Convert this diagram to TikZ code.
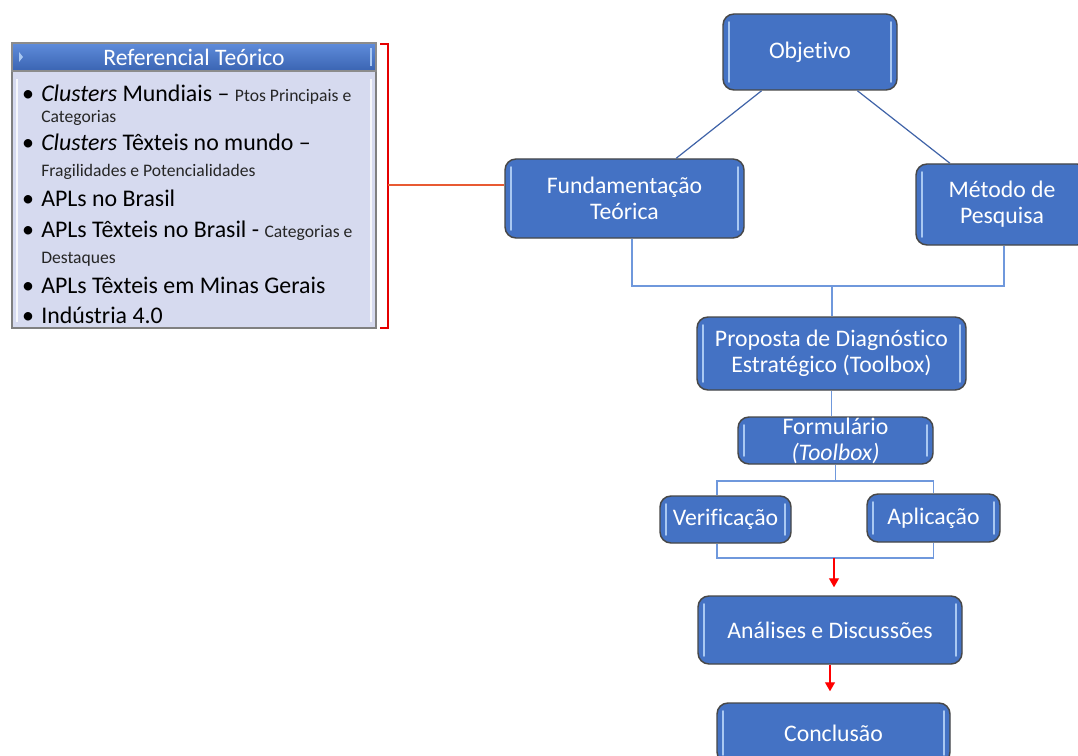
\documentclass[tikz,border=0pt]{standalone}
\usepackage{fontspec}
\setmainfont[Ligatures=NoCommon]{Carlito}
\usetikzlibrary{arrows.meta,calc}
\definecolor{boxblue}{HTML}{4472C4}
\definecolor{bevel}{HTML}{A9C8F2}
\definecolor{connblue}{HTML}{6F98DC}
\definecolor{diagblue}{HTML}{3F63A8}
\definecolor{lav}{HTML}{D6DAEF}
\definecolor{hdrtop}{HTML}{5F8CDB}
\definecolor{hdrbot}{HTML}{3A64B2}
\newcommand\PX[1]{#1*0.75pt}
\tikzset{
  box/.style={draw=black!72, line width=1.1pt, fill=boxblue, rounded corners=\PX{11},
    text=white, font=\fontsize{17.8}{19.5}\selectfont, align=center, inner sep=0pt,
    path picture={
      \draw[bevel, line width=1.3pt, line cap=round]
        ([xshift=\PX{6},yshift=-\PX{8}]path picture bounding box.north west) --
        ([xshift=\PX{6},yshift=\PX{8}]path picture bounding box.south west);
      \draw[bevel, line width=1.3pt, line cap=round]
        ([xshift=-\PX{6},yshift=-\PX{8}]path picture bounding box.north east) --
        ([xshift=-\PX{6},yshift=\PX{8}]path picture bounding box.south east);
    }},
  conn/.style={draw=connblue, line width=0.9pt},
  diag/.style={draw=diagblue, line width=0.9pt},
  redarrow/.style={draw=red, line width=0.9pt, -{Triangle[length=\PX{9},width=\PX{10}]}},
  bigt/.style={anchor=base west, inner sep=0pt, text=black, font=\fontsize{17.9}{20}\selectfont},
  smallt/.style={anchor=base west, inner sep=0pt, text=black!85, font=\fontsize{13.2}{15}\selectfont},
  bul/.style={anchor=base, inner sep=0pt, text=black, font=\fontsize{18}{20}\selectfont},
}
\newcommand\sm[1]{{\fontsize{13.2}{15}\selectfont\color{black!85}#1}}
\begin{document}
\begin{tikzpicture}[x=0.75pt,y=-0.75pt]
\useasboundingbox (0,0) rectangle (1078,756);
\fill[white] (0,0) rectangle (1078,756);

% ---------- left panel ----------
\node[draw=black!50, line width=0.9pt, fill=lav, minimum width=\PX{364}, minimum height=\PX{257}, inner sep=0pt,
  path picture={
    \draw[white, line width=2pt, opacity=0.8]
      ([xshift=\PX{5},yshift=-\PX{8}]path picture bounding box.north west) --
      ([xshift=\PX{5},yshift=\PX{6}]path picture bounding box.south west);
    \draw[white, line width=2pt, opacity=0.8]
      ([xshift=-\PX{5},yshift=-\PX{8}]path picture bounding box.north east) --
      ([xshift=-\PX{5},yshift=\PX{6}]path picture bounding box.south east);
  }] (body) at (194,199.5) {};
\node[draw=black!45, line width=0.9pt, top color=hdrtop, bottom color=hdrbot, minimum width=\PX{364}, minimum height=\PX{28}, inner sep=0pt,
  text=white, font=\fontsize{17.7}{20}\selectfont] (hdr) at (194,57) {Referencial Teórico};
\fill[bevel] (19,52) -- (23,57) -- (19,62) -- cycle;
\draw[bevel, line width=1.2pt] (371,48) -- (371,66);

\node[bul] (b1) at (28,102) {•};
\node[bigt] (t1) at (41,102) {\textit{Clusters} Mundiais – \sm{Ptos Principais e}};
\node[smallt] (t1b) at (41,123) {Categorias};
\node[bul] (b2) at (28,151) {•};
\node[bigt] (t2) at (41,151) {\textit{Clusters} Têxteis no mundo –};
\node[smallt] (t2b) at (41,177) {Fragilidades e  Potencialidades};
\node[bul] (b3) at (28,207) {•};
\node[bigt] (t3) at (41,207) {APLs no Brasil};
\node[bul] (b4) at (28,238) {•};
\node[bigt] (t4) at (41,238) {APLs Têxteis no Brasil - \sm{Categorias e}};
\node[smallt] (t4b) at (41,263) {Destaques};
\node[bul] (b5) at (28,293) {•};
\node[bigt] (t5) at (41,293) {APLs Têxteis em Minas Gerais};
\node[bul] (b6) at (28,323) {•};
\node[bigt] (t6) at (41,323) {Indústria 4.0};

% ---------- right flow ----------
\node[box, minimum width=\PX{174}, minimum height=\PX{76}] (obj) at (810,52) {Objetivo};
\node[box, minimum width=\PX{239}, minimum height=\PX{79}] (fund) at (624.5,198.5) {Fundamentação\\Teórica};
\node[box, minimum width=\PX{172}, minimum height=\PX{81}] (met) at (1002,204.5) {Método de\\Pesquisa};
\node[box, minimum width=\PX{269}, minimum height=\PX{73}] (prop) at (831.5,353.5) {Proposta de Diagnóstico\\Estratégico (Toolbox)};
\node[box, minimum width=\PX{195}, minimum height=\PX{47}] (form) at (835.5,440.5) {Formulário\\\textit{(Toolbox)}};
\node[box, minimum width=\PX{131}, minimum height=\PX{47}] (ver) at (725.5,519.5) {Verificação};
\node[box, minimum width=\PX{133}, minimum height=\PX{48}] (apl) at (933.5,518) {Aplicação};
\node[box, minimum width=\PX{264}, minimum height=\PX{68}] (ana) at (830,630) {Análises e Discussões};
\node[box, minimum width=\PX{233}, minimum height=\PX{60}] (con) at (833.5,733) {Conclusão};

% red bracket
\draw[red!90!black, line width=0.8pt] (380,44) -- (388,44) -- (388,328) -- (380,328);
\coordinate (bk) at (388,185);
\draw[draw={rgb,255:red,232;green,90;blue,50}, line width=0.8pt] (bk) -- (fund.west |- bk);

% diagonals
\draw[diag] ($(obj.south west)!0.224!(obj.south east)$) -- ($(fund.north west)!0.715!(fund.north east)$);
\draw[diag] ($(obj.south west)!0.77!(obj.south east)$) -- ($(met.north west)!0.2!(met.north east)$);

% junctions
\coordinate (j1) at (832,286);
\draw[conn] ([xshift=\PX{7.5}]fund.south) |- (j1) -| ([xshift=\PX{2}]met.south);
\draw[conn] (j1) -- (j1 |- prop.north);
\draw[conn] (prop.south) -- (prop.south |- form.north);
\coordinate (j2) at (835,481);
\draw[conn] (form.south) -- (form.south |- j2);
\draw[conn] ([xshift=-\PX{8.5}]ver.north) |- (j2) -| (apl.north);
\coordinate (j3) at (834,558);
\draw[conn] ([xshift=-\PX{8.5}]ver.south) |- (j3) -| (apl.south);
\draw[redarrow, shorten >=\PX{8}] (j3) -- (j3 |- ana.north);
\draw[redarrow, shorten >=\PX{11}] (ana.south) -- (ana.south |- con.north);
\end{tikzpicture}
\end{document}
